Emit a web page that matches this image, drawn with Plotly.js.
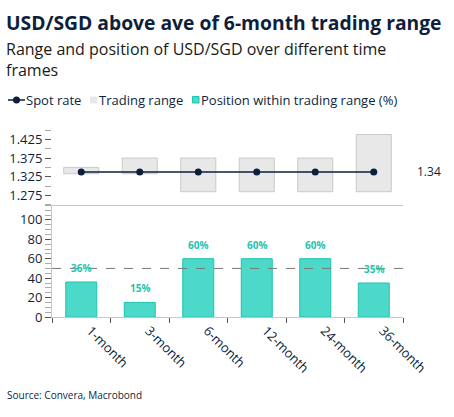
<!DOCTYPE html>
<html>
<head>
<meta charset="utf-8">
<script src="https://cdn.plot.ly/plotly-3.0.1.min.js"></script>
<style>
  html, body { margin: 0; padding: 0; background: #fff; }
  #chart { width: 454px; height: 417px; }
</style>
</head>
<body>
<div id="chart"></div>
<script>
// data
const frames = ['1-month', '3-month', '6-month', '12-month', '24-month', '36-month'];
const rangeLow = [1.333, 1.333, 1.285, 1.285, 1.285, 1.285];
const rangeHigh = [1.350, 1.375, 1.375, 1.375, 1.375, 1.438];
const spotRate = [1.338, 1.338, 1.338, 1.338, 1.338, 1.338];
const position = [36, 15, 60, 60, 60, 35];
const midLine = 50;
const spotLabel = '1.34';

const navy = '#0d1f3c';
const teal = '#4dd9c9';
const tealEdge = '#1cc4ae';
const rangeFill = '#e8e8e8';
const font = 'Open Sans, Noto Sans, sans-serif';

const rangeSize = rangeHigh.map((h, i) => h - rangeLow[i]);

// plot box in pixels, used to place the hand-made legend in paper units
const W = 454, H = 417, L = 52, R = 51, T = 130, B = 100;
const px = v => (v - L) / (W - L - R);
const py = v => (H - B - v) / (H - T - B);

const traces = [
  {
    name: 'Trading range', x: frames, y: rangeSize, base: rangeLow, xaxis: 'x2', yaxis: 'y2',
    type: 'bar', width: 0.6,
    marker: { color: rangeFill, line: { color: '#cacaca', width: 1 } },
    hoverinfo: 'none'
  },
  {
    name: 'Spot rate', x: frames, y: spotRate, xaxis: 'x2', yaxis: 'y2',
    type: 'scatter', mode: 'lines+markers',
    line: { color: navy, width: 1.5 },
    marker: { color: navy, size: 7 },
    hoverinfo: 'none'
  },
  {
    name: 'Position within trading range (%)', x: frames, y: position,
    type: 'bar', width: 0.53,
    marker: { color: teal, line: { color: tealEdge, width: 1 } },
    hoverinfo: 'none'
  }
];

const annotations = position.map((v, i) => ({
  x: frames[i], y: v, xref: 'x', yref: 'y', text: '<b>' + v + '%</b>',
  showarrow: false, yshift: 14, font: { family: font, size: 10, color: '#22c4ae' }
}));

const legendFont = { family: font, size: 13, color: navy };
annotations.push(
  { xref: 'paper', yref: 'y2', x: px(429), xanchor: 'center', y: spotRate[spotRate.length - 1],
    text: spotLabel, showarrow: false, font: { family: font, size: 12, color: navy } },
  { xref: 'paper', yref: 'paper', x: px(4), y: py(36), xanchor: 'left', yanchor: 'top', align: 'left',
    text: 'Range and position of USD/SGD over different time<br>frames', showarrow: false,
    font: { family: font, size: 16, color: '#1a1a1a' } },
  { xref: 'paper', yref: 'paper', x: px(5), y: py(395), xanchor: 'left', yanchor: 'middle',
    text: 'Source: Convera, Macrobond', showarrow: false,
    font: { family: font, size: 10, color: navy } },
  // legend texts
  { xref: 'paper', yref: 'paper', x: px(24), y: py(100), xanchor: 'left', yanchor: 'middle',
    text: 'Spot rate', showarrow: false, font: legendFont },
  { xref: 'paper', yref: 'paper', x: px(97), y: py(100), xanchor: 'left', yanchor: 'middle',
    text: 'Trading range', showarrow: false, font: legendFont },
  { xref: 'paper', yref: 'paper', x: px(199), y: py(100), xanchor: 'left', yanchor: 'middle',
    text: 'Position within trading range (%)', showarrow: false, font: legendFont }
);

// legend keys
const keys = [
  { type: 'line', xref: 'paper', yref: 'paper', x0: px(8), x1: px(25), y0: py(100), y1: py(100),
    line: { color: navy, width: 1.5 } },
  { type: 'circle', xref: 'paper', yref: 'paper', x0: px(13), x1: px(20), y0: py(96.5), y1: py(103.5),
    fillcolor: navy, line: { color: navy, width: 0 } },
  { type: 'rect', xref: 'paper', yref: 'paper', x0: px(90), x1: px(97), y0: py(96.5), y1: py(103.5),
    fillcolor: rangeFill, line: { width: 0 } },
  { type: 'rect', xref: 'paper', yref: 'paper', x0: px(192.5), x1: px(199), y0: py(96.5), y1: py(103),
    fillcolor: teal, line: { color: tealEdge, width: 1 } }
];

const layout = {
  width: W, height: H,
  margin: { l: L, r: R, t: T, b: B },
  paper_bgcolor: '#fff', plot_bgcolor: '#fff',
  font: { family: font, color: navy, size: 12 },
  title: {
    text: '<b>USD/SGD above ave of 6-month trading range</b>',
    x: 6 / W, xanchor: 'left', xref: 'container',
    y: 1 - 23 / H, yanchor: 'middle', yref: 'container',
    font: { family: font, size: 19.3, color: navy }
  },
  showlegend: false,
  barmode: 'overlay',
  xaxis: {
    type: 'category', domain: [0, 1], anchor: 'y',
    tickson: 'boundaries', ticks: 'outside', ticklen: 5, tickcolor: '#555',
    showline: true, linecolor: '#c8c8c8', linewidth: 1,
    showgrid: false, tickangle: 45, ticklabelshift: 9,
    tickfont: { family: font, size: 13, color: navy }
  },
  yaxis: {
    domain: [0, 0.6], range: [0, 115.5], anchor: 'x',
    tickvals: [0, 20, 40, 60, 80, 100], ticks: 'outside', ticklen: 6, tickcolor: '#555',
    minor: { dtick: 5, tick0: 0, ticks: 'outside', ticklen: 6, tickcolor: '#aaa' },
    showline: true, linecolor: '#c8c8c8', showgrid: false, zeroline: false,
    tickfont: { family: font, size: 13, color: navy }
  },
  xaxis2: {
    type: 'category', domain: [0, 1], anchor: 'y2', matches: 'x',
    showticklabels: false, ticks: '', showline: true, linecolor: '#c8c8c8', showgrid: false
  },
  yaxis2: {
    domain: [0.6, 1], range: [1.25, 1.45], anchor: 'x2',
    tick0: 1.275, dtick: 0.05, tickformat: '.3f', ticks: 'outside', ticklen: 6, tickcolor: '#555',
    minor: { dtick: 0.025, tick0: 1.25, ticks: 'outside', ticklen: 6, tickcolor: '#aaa' },
    showline: false, showgrid: false, zeroline: false,
    tickfont: { family: font, size: 13, color: navy }
  },
  shapes: [
    { type: 'line', xref: 'paper', yref: 'y', x0: 0, x1: 1, y0: midLine, y1: midLine,
      line: { color: '#777', width: 1, dash: 'dash' } }
  ].concat(keys),
  annotations: annotations
};

Plotly.newPlot('chart', traces, layout, { displayModeBar: false, staticPlot: true });
</script>
</body>
</html>
